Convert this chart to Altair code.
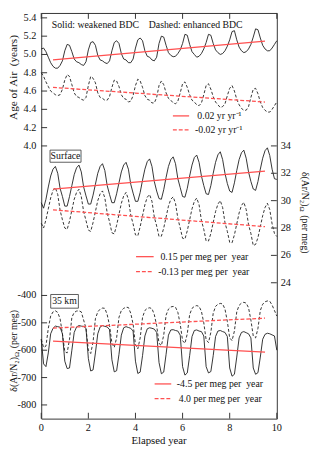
import altair as alt
import pandas as pd

FONT = "Liberation Serif"

# elapsed years (0.1-year sampling)
T = [round(i * 0.1, 1) for i in range(101)]

# Age of air (years)
age_weak = [5.06, 5.07, 5.03, 4.97, 4.91, 4.87, 4.85, 4.85, 4.88, 4.93,
            5.04, 5.11, 5.10, 5.03, 4.95, 4.92, 4.91, 4.89, 4.88, 4.92,
            5.05, 5.13, 5.14, 5.10, 4.99, 4.94, 4.93, 4.91, 4.90, 4.93,
            5.04, 5.13, 5.15, 5.12, 5.01, 4.95, 4.94, 4.91, 4.91, 4.95,
            5.07, 5.16, 5.18, 5.15, 5.04, 4.98, 4.97, 4.94, 4.93, 4.97,
            5.12, 5.20, 5.19, 5.10, 5.02, 4.99, 4.975, 4.98, 5.01, 5.05,
            5.12, 5.22, 5.21, 5.11, 5.03, 5.00, 4.97, 4.98, 5.01, 5.06,
            5.13, 5.22, 5.21, 5.12, 5.05, 5.02, 5.00, 5.01, 5.04, 5.09,
            5.16, 5.25, 5.26, 5.16, 5.08, 5.04, 5.02, 5.03, 5.06, 5.11,
            5.19, 5.28, 5.27, 5.18, 5.10, 5.06, 5.04, 5.04, 5.07, 5.11,
            5.15]
age_enh = [4.80, 4.76, 4.70, 4.65, 4.60, 4.58, 4.56, 4.55, 4.56, 4.62,
           4.72, 4.78, 4.76, 4.67, 4.58, 4.54, 4.53, 4.51, 4.50, 4.53,
           4.66, 4.76, 4.74, 4.69, 4.58, 4.53, 4.52, 4.50, 4.50, 4.54,
           4.64, 4.72, 4.71, 4.65, 4.56, 4.52, 4.51, 4.48, 4.49, 4.55,
           4.66, 4.73, 4.71, 4.64, 4.55, 4.51, 4.50, 4.47, 4.47, 4.53,
           4.66, 4.71, 4.67, 4.58, 4.52, 4.50, 4.47, 4.46, 4.49, 4.58,
           4.68, 4.70, 4.64, 4.56, 4.50, 4.48, 4.45, 4.44, 4.47, 4.56,
           4.66, 4.68, 4.62, 4.54, 4.48, 4.45, 4.42, 4.43, 4.46, 4.55,
           4.63, 4.66, 4.60, 4.51, 4.45, 4.41, 4.39, 4.39, 4.43, 4.53,
           4.62, 4.63, 4.57, 4.48, 4.42, 4.39, 4.37, 4.37, 4.40, 4.44,
           4.48]

# Surface d(Ar/N2) (per meg)
sfc_weak = [29.85, 29.45, 30.1, 31.0, 31.8, 32.3, 32.5, 32.0, 30.9, 30.3,
            29.6, 29.6, 30.3, 31.1, 31.9, 32.4, 32.6, 32.1, 31.0, 30.35,
            29.75, 29.75, 30.4, 31.2, 32.0, 32.5, 32.7, 32.2, 31.1, 30.45,
            29.85, 29.85, 30.5, 31.3, 32.1, 32.6, 32.8, 32.3, 31.2, 30.55,
            29.95, 29.95, 30.6, 31.5, 32.3, 32.85, 33.05, 32.5, 31.4, 30.7,
            30.15, 30.1, 30.8, 31.7, 32.5, 33.0, 33.2, 32.7, 31.6, 30.95,
            30.3, 30.25, 30.9, 31.8, 32.6, 33.15, 33.33, 32.8, 31.8, 31.1,
            30.5, 30.45, 31.1, 32.0, 32.8, 33.35, 33.57, 33.0, 32.0, 31.25,
            30.7, 30.6, 31.3, 32.2, 33.0, 33.5, 33.69, 33.1, 32.1, 31.4,
            30.85, 30.75, 31.4, 32.3, 33.1, 33.65, 33.86, 33.3, 32.3, 31.6,
            31.55]
sfc_enh = [28.35, 28.0, 28.6, 29.4, 30.2, 30.75, 30.95, 30.45, 29.3, 28.6,
           28.0, 27.9, 28.5, 29.3, 30.1, 30.6, 30.83, 30.3, 29.2, 28.55,
           27.85, 27.75, 28.4, 29.2, 30.0, 30.5, 30.71, 30.2, 29.1, 28.45,
           27.65, 27.57, 28.2, 29.0, 29.8, 30.35, 30.6, 30.1, 28.95, 28.3,
           27.5, 27.43, 28.1, 28.9, 29.7, 30.25, 30.45, 29.95, 28.8, 28.15,
           27.38, 27.4, 28.0, 28.8, 29.6, 30.1, 30.28, 29.8, 28.7, 28.0,
           27.25, 27.2, 27.8, 28.6, 29.4, 29.95, 30.19, 29.7, 28.55, 27.9,
           27.05, 27.05, 27.6, 28.4, 29.2, 29.75, 30.0, 29.5, 28.4, 27.75,
           26.95, 26.92, 27.5, 28.3, 29.1, 29.65, 29.88, 29.35, 28.25, 27.6,
           26.72, 26.8, 27.3, 28.1, 28.9, 29.5, 29.81, 29.35, 28.3, 27.6,
           27.38]

# 35 km d(Ar/N2) (per meg)
km35_weak = [-560, -650, -660, -610, -540, -520, -512, -514, -516, -540,
             -640, -667, -665, -600, -535, -515, -510, -512, -513, -520,
             -630, -676, -672, -610, -540, -515, -510, -513, -515, -525,
             -635, -679, -675, -615, -545, -518, -514, -517, -520, -530,
             -640, -685, -680, -620, -548, -522, -518, -520, -523, -535,
             -645, -686, -680, -615, -545, -526, -525, -528, -530, -545,
             -660, -691, -683, -620, -550, -528, -526, -530, -532, -548,
             -660, -683, -678, -620, -550, -530, -528, -532, -535, -550,
             -665, -695, -688, -625, -555, -535, -532, -536, -540, -555,
             -665, -688, -682, -625, -560, -542, -538, -540, -544, -548,
             -600]
km35_enh = [-560, -590, -585, -520, -475, -460, -456, -462, -485, -540,
            -605, -610, -560, -480, -462, -457, -456, -460, -490, -520,
            -600, -612, -570, -485, -460, -450, -446, -447, -470, -510,
            -575, -590, -555, -480, -455, -447, -443, -444, -465, -505,
            -580, -595, -555, -480, -455, -447, -445, -448, -470, -510,
            -575, -583, -545, -472, -450, -442, -440, -443, -462, -505,
            -565, -575, -540, -470, -447, -440, -437, -440, -458, -500,
            -562, -572, -535, -465, -440, -432, -429, -431, -450, -495,
            -555, -565, -530, -460, -436, -428, -425, -428, -445, -490,
            -548, -555, -520, -455, -432, -423, -420, -421, -435, -455,
            -475]

# linear trends (start / end)
trend_t = [0.5, 9.5]
age_weak_trend = [4.94, 5.145]
age_enh_trend = [4.64, 4.48]
sfc_weak_trend = [30.85, 32.15]
sfc_enh_trend = [29.33, 28.10]
km35_weak_trend = [-567, -607]
km35_enh_trend = [-519, -483]

# axis ticks and their labels
age_ticks = [4.0, 4.2, 4.4, 4.6, 4.8, 5.0, 5.2, 5.4]
age_labels = ["4.0", "4.2", "4.4", "4.6", "4.8", "5.0", "5.2", "5.4"]
sfc_ticks = [24, 26, 28, 30, 32, 34]
sfc_labels = ["24", "26", "28", "30", "32", "34"]
km35_ticks = [-800, -700, -600, -500, -400]
km35_labels = ["-800", "-700", "-600", "-500", "-400"]
x_ticks = [0, 2, 4, 6, 8, 10]
x_labels = ["0", "2", "4", "6", "8", "10"]

W, H = 241, 415
AGE_DOM = [1.0185, 5.4535]
SFC_DOM = [14.071, 43.714]
KM_DOM = [-850, 632.1]

BLACK = "#1c1c1c"
RED = "#ff5050"
TXT = "#111111"
ONE = pd.DataFrame({"k": [0]})
xsc = alt.Scale(domain=[0, 10], nice=False, zero=False)


def line(ts, vs, ysc, color, width, dash=None):
    df = pd.DataFrame({"t": ts, "v": vs})
    kw = dict(color=color, strokeWidth=width)
    if dash:
        kw["strokeDash"] = dash
    return alt.Chart(df).mark_line(**kw).encode(
        x=alt.X("t:Q", scale=xsc, axis=None),
        y=alt.Y("v:Q", scale=ysc, axis=None),
    )


def panel(weak, enh, tw, te, dom, ticks, labels, side, extra=()):
    ysc = alt.Scale(domain=dom, nice=False, zero=False)
    layers = [
        line(T, weak, ysc, BLACK, 0.9),
        line(T, enh, ysc, BLACK, 0.9, dash=[3, 2]),
        line(trend_t, tw, ysc, RED, 1.3),
        line(trend_t, te, ysc, RED, 1.3, dash=[4, 2]),
    ]
    tdf = pd.DataFrame({"v": ticks, "lab": labels})
    if side == "left":
        x0, x1, lx, al = 0, 6, -5, "right"
    else:
        x0, x1, lx, al = W - 6, W, W + 4, "left"
    layers.append(
        alt.Chart(tdf).mark_rule(color="#333", strokeWidth=1).encode(
            y=alt.Y("v:Q", scale=ysc, axis=None), x=alt.value(x0), x2=alt.value(x1))
    )
    layers.append(
        alt.Chart(tdf).mark_text(font=FONT, fontSize=10.5, align=al, baseline="middle", color=TXT).encode(
            y=alt.Y("v:Q", scale=ysc, axis=None), x=alt.value(lx), text="lab:N")
    )
    layers.extend(extra)
    return alt.layer(*layers)


xt = pd.DataFrame({"t": x_ticks, "lab": x_labels})
xtick_bottom = alt.Chart(xt).mark_rule(color="#333", strokeWidth=1).encode(
    x=alt.X("t:Q", scale=xsc, axis=None), y=alt.value(H - 6), y2=alt.value(H))
xtick_top = alt.Chart(xt).mark_rule(color="#333", strokeWidth=1).encode(
    x=alt.X("t:Q", scale=xsc, axis=None), y=alt.value(0), y2=alt.value(6))
xlabels = alt.Chart(xt).mark_text(font=FONT, fontSize=10.5, align="center", baseline="middle", color=TXT).encode(
    x=alt.X("t:Q", scale=xsc, axis=None), y=alt.value(H + 10), text="lab:N")

p_age = panel(age_weak, age_enh, age_weak_trend, age_enh_trend, AGE_DOM, age_ticks, age_labels, "left",
              extra=(xtick_bottom, xtick_top, xlabels))
p_sfc = panel(sfc_weak, sfc_enh, sfc_weak_trend, sfc_enh_trend, SFC_DOM, sfc_ticks, sfc_labels, "right")
p_km = panel(km35_weak, km35_enh, km35_weak_trend, km35_enh_trend, KM_DOM, km35_ticks, km35_labels, "left")


def txt(s, x, y, size=10, align="left", angle=0):
    return alt.Chart(ONE).mark_text(text=s, font=FONT, fontSize=size, align=align, baseline="middle",
                                    angle=angle, color=TXT).encode(x=alt.value(x), y=alt.value(y))


def seg(x1, x2, y, dash=None):
    kw = dict(color=RED, strokeWidth=1.3)
    if dash:
        kw["strokeDash"] = dash
    return alt.Chart(ONE).mark_rule(**kw).encode(x=alt.value(x1), x2=alt.value(x2), y=alt.value(y))


def box(x1, x2, y1, y2):
    return alt.Chart(ONE).mark_rect(fill="white", stroke="#333", strokeWidth=0.8).encode(
        x=alt.value(x1), x2=alt.value(x2), y=alt.value(y1), y2=alt.value(y2))


NB = "\u00a0"
annots = [
    txt("Solid: weakened BDC" + NB * 4 + "Dashed: enhanced BDC", 10.7, 12),
    seg(134.7, 151.3, 105.3), txt("0.02 yr yr\u207b\u00b9", 159.7, 105.3),
    seg(134.7, 151.3, 119.7, [4, 2]), txt("-0.02 yr yr\u207b\u00b9", 157.3, 119.7),
    seg(97, 115, 249.3), txt("0.15 per meg per" + NB * 2 + "year", 122, 249.5),
    seg(97, 115, 264.7, [4, 2]), txt("-0.13 per meg per" + NB * 2 + "year", 119.7, 265),
    seg(116, 133, 379.5), txt("-4.5 per meg per" + NB * 2 + "year", 138.7, 380),
    seg(116, 133, 394.5, [4, 2]), txt("4.0 per meg per" + NB * 2 + "year", 140.7, 395),
    box(9, 40.7, 140.3, 152.7), txt("Surface", 24.8, 146.5, align="center"),
    box(9.7, 38, 288, 302), txt("35 km", 23.8, 295, align="center"),
    # x axis title
    txt("Elapsed year", 120.5, 437.5, size=11, align="center"),
    # top-left axis title
    txt("Age of Air" + NB * 2 + "(years)", -28, 66, size=11.5, align="center", angle=270),
    # bottom-left title (reads upward)
    txt("\u03b4(Ar/N\u2082)", -28, 352, align="right", angle=270),
    txt("\u03a9", -25, 352, size=7, angle=270),
    txt("(per meg)", -28, 343, angle=270),
    # right title (reads downward)
    txt("\u03b4(Ar/N\u2082)", 269.7, 198, align="right", angle=90),
    txt("\u03a9", 266.7, 198, size=7, angle=90),
    txt("(per meg)", 269.7, 207, angle=90),
]

chart = alt.layer(p_age, p_sfc, p_km, *annots).resolve_scale(y="independent").properties(
    width=W, height=H,
    autosize=alt.AutoSizeParams(type="none"),
    padding={"left": 34, "top": 0, "right": 36, "bottom": 27},
).configure_view(stroke="#333", strokeWidth=1)

chart.save("out.html", embed_options={"renderer": "svg", "actions": False})
